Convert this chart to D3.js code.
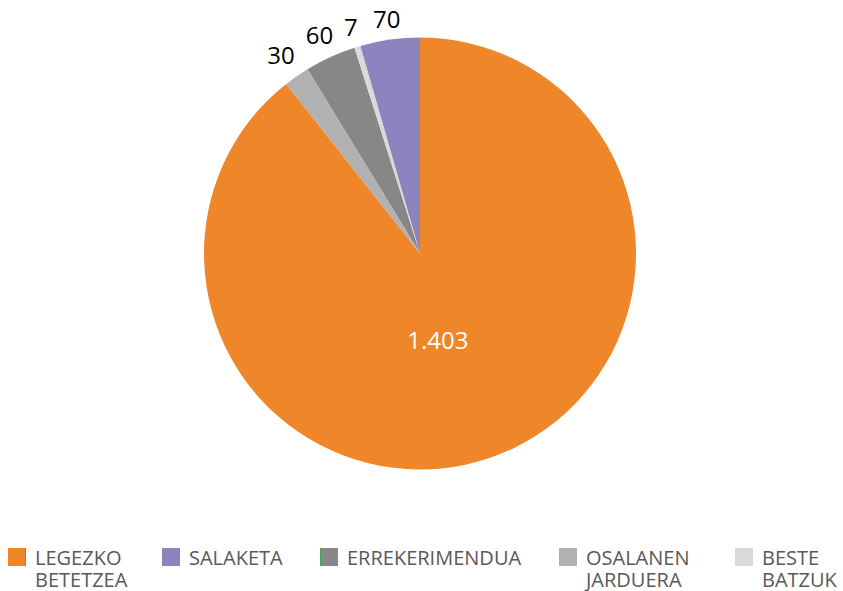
<!DOCTYPE html>
<html>
<head>
    <meta charset="utf-8">
    <style>
        body { margin: 0; background: #fff; }
        svg { display: block; }
        .value-label {
            font-family: "Open Sans", "Noto Sans", sans-serif;
            font-size: 24px;
            fill: #000;
        }
        .legend text {
            font-family: "Open Sans", "Noto Sans", sans-serif;
            font-size: 20px;
            fill: #595959;
        }
    </style>
</head>
<body>
<svg width="843" height="591"></svg>

<script src="https://d3js.org/d3.v7.min.js"></script>
<script>
    // data
    let categories = ["LEGEZKO BETETZEA", "SALAKETA", "ERREKERIMENDUA", "OSALANEN JARDUERA", "BESTE BATZUK"];
    let legendLines = [["LEGEZKO", "BETETZEA"], ["SALAKETA"], ["ERREKERIMENDUA"], ["OSALANEN", "JARDUERA"], ["BESTE", "BATZUK"]];
    let values = [1403, 70, 60, 30, 7];
    let valueLabels = ["1.403", "70", "60", "30", "7"];
    let colors = ["#F0862A", "#8C83BF", "#878787", "#B1B1B1", "#D9D9D9"];
    // clockwise order of slices starting at 12 o'clock
    let sliceOrder = ["LEGEZKO BETETZEA", "OSALANEN JARDUERA", "ERREKERIMENDUA", "BESTE BATZUK", "SALAKETA"];

    let svg = d3.select("svg");

    let cx = 420, cy = 253.5, radius = 216;

    let rows = categories.map((c, i) => ({ cat: c, value: values[i], label: valueLabels[i], lines: legendLines[i] }));

    let color = d3.scaleOrdinal()
        .domain(categories)
        .range(colors);

    let pie = d3.pie()
        .value(d => d.value)
        .sort((a, b) => sliceOrder.indexOf(a.cat) - sliceOrder.indexOf(b.cat));

    let arcs = pie(rows);

    let arc = d3.arc()
        .innerRadius(0)
        .outerRadius(radius);

    let g = svg.append("g")
        .attr("transform", `translate(${cx},${cy})`);

    g.selectAll("path")
        .data(arcs)
        .join("path")
        .attr("fill", d => color(d.data.cat))
        .attr("d", arc);

    // labels: big slice inside (white), small ones outside
    g.selectAll("text.value-label")
        .data(arcs)
        .join("text")
        .attr("class", "value-label")
        .attr("text-anchor", "middle")
        .attr("dominant-baseline", "central")
        .text(d => d.data.label)
        .each(function (d) {
            let t = d3.select(this);
            let a = (d.startAngle + d.endAngle) / 2;
            let s = Math.sin(a), c = Math.cos(a);
            if (d.endAngle - d.startAngle > Math.PI) {
                let r = radius * 0.42;
                t.attr("x", s * r - 12).attr("y", -c * r).style("fill", "#fff");
            } else {
                let w = this.getComputedTextLength();
                let r = 228 + 0.5 * w * Math.abs(s) + 9 * Math.abs(c);
                t.attr("x", s * r).attr("y", -c * r + 1);
            }
        });

    // legend
    let legendX = [8, 162, 320, 559, 735];

    let legend = svg.append("g")
        .attr("class", "legend")
        .selectAll("g")
        .data(rows)
        .join("g")
        .attr("transform", (d, i) => `translate(${legendX[i]},548)`);

    legend.append("rect")
        .attr("width", 18)
        .attr("height", 18)
        .attr("fill", d => color(d.cat));

    // small coloured edges seen on two of the markers
    legend.filter(d => d.cat == "LEGEZKO BETETZEA")
        .append("rect")
        .attr("x", 17).attr("width", 1).attr("height", 18)
        .attr("fill", "#2F9BD0");
    legend.filter(d => d.cat == "ERREKERIMENDUA")
        .append("rect")
        .attr("x", 0).attr("width", 1).attr("height", 18)
        .attr("fill", "#3DAA4A");

    legend.selectAll("text")
        .data(d => d.lines)
        .join("text")
        .attr("x", 27)
        .attr("y", (d, i) => 17 + i * 22)
        .text(d => d);
</script>
</body>
</html>
